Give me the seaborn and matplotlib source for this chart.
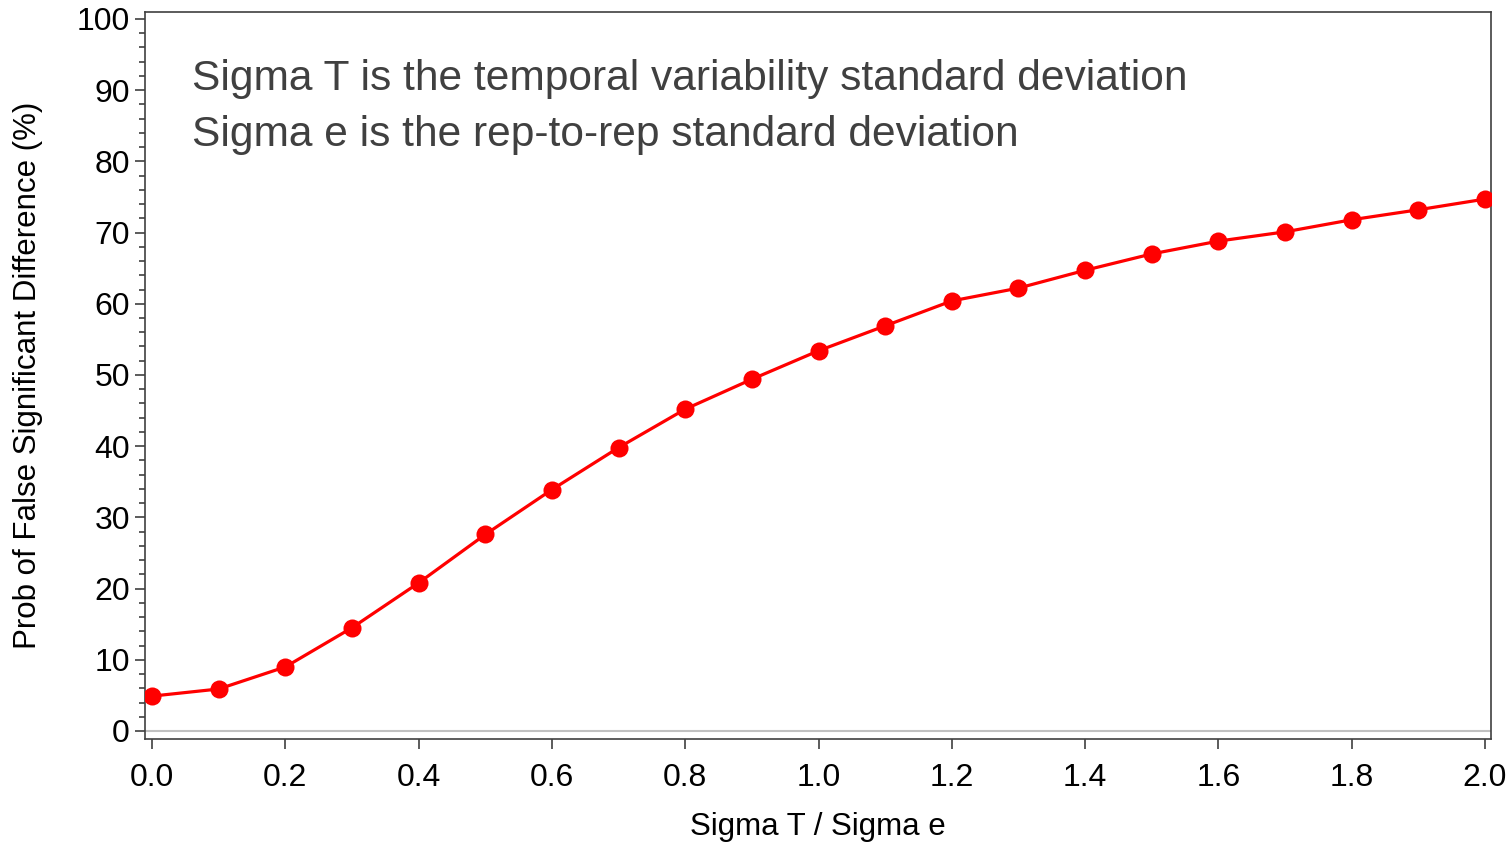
import matplotlib
matplotlib.use("Agg")
import pandas as pd
import seaborn as sns
import matplotlib.pyplot as plt
from matplotlib.ticker import MultipleLocator

# Probability of a false significant difference vs ratio of standard deviations
ratio = [0.0, 0.1, 0.2, 0.3, 0.4, 0.5, 0.6, 0.7, 0.8, 0.9, 1.0,
         1.1, 1.2, 1.3, 1.4, 1.5, 1.6, 1.7, 1.8, 1.9, 2.0]
prob_pct = [4.9, 5.9, 9.0, 14.5, 20.8, 27.6, 33.9, 39.8, 45.2, 49.4, 53.4,
            56.9, 60.4, 62.2, 64.7, 67.0, 68.8, 70.1, 71.8, 73.2, 74.7]
x_ticks = [0.0, 0.2, 0.4, 0.6, 0.8, 1.0, 1.2, 1.4, 1.6, 1.8, 2.0]
y_ticks = [0, 10, 20, 30, 40, 50, 60, 70, 80, 90, 100]
notes = ["Sigma T is the temporal variability standard deviation",
         "Sigma e is the rep-to-rep standard deviation"]

df = pd.DataFrame({"ratio": ratio, "prob": prob_pct})

sns.set_style("ticks")
plt.rcParams['font.family'] = ['Liberation Sans', 'DejaVu Sans']

fig = plt.figure(figsize=(15.08, 8.43), dpi=100)
ax = fig.add_axes([0.0962, 0.1234, 0.8925, 0.8624])

# light reference line at zero
ax.axhline(0, color='#c0c0c0', lw=1.5, zorder=1)

sns.lineplot(data=df, x='ratio', y='prob', color='#ff0000', lw=2.3,
             marker='o', markersize=13, markeredgewidth=0, ax=ax, zorder=3)

ax.set_xlim(-0.0105, 2.009)
ax.set_ylim(-1.12, 100.98)
ax.set_xticks(x_ticks)
ax.set_xticklabels([f"{v:.1f}" for v in x_ticks])
ax.set_yticks(y_ticks)
ax.yaxis.set_minor_locator(MultipleLocator(2))

ax.tick_params(axis='both', which='major', length=7, width=1.2,
               color='#404040', labelsize=23, labelcolor='black')
ax.tick_params(axis='y', which='minor', length=4, width=1.2, color='#404040')
ax.tick_params(axis='x', pad=10)
ax.tick_params(axis='y', pad=4)

for s in ax.spines.values():
    s.set_color('#404040')
    s.set_linewidth(1.2)

ax.set_xlabel('Sigma T / Sigma e', fontsize=22.5, labelpad=14, color='black')
ax.set_ylabel('Prob of False Significant Difference (%)', fontsize=22.5,
              labelpad=24, color='black')

for i, line in enumerate(notes):
    ax.text(0.035, 0.893 - i * 0.078, line, transform=ax.transAxes,
            fontsize=30.6, color='#404040', va='baseline')

fig.savefig('out.png', dpi=100)
